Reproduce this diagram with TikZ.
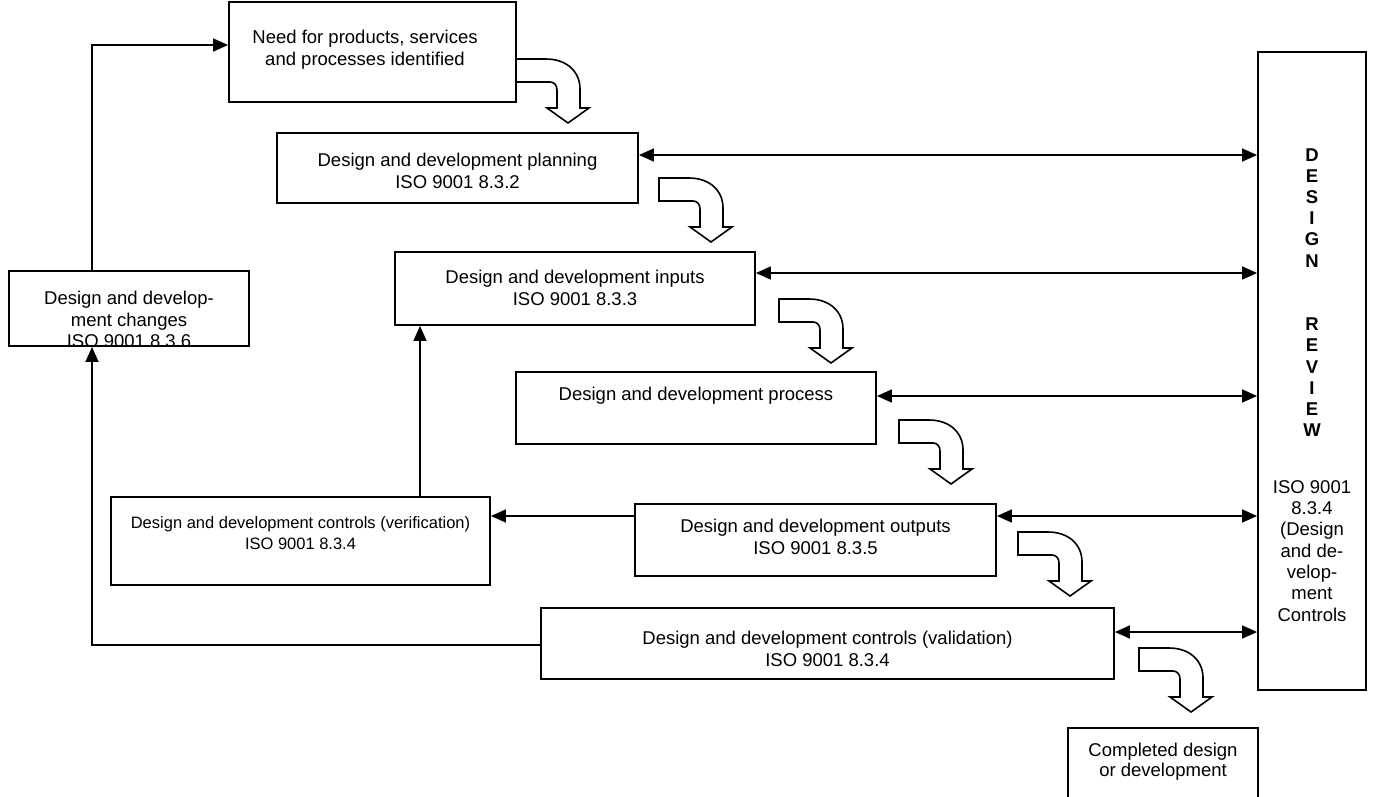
\documentclass[tikz,border=0pt]{standalone}
\usepackage{fontspec}
\setmainfont{Liberation Sans}
\usetikzlibrary{arrows.meta}
\tikzset{
  box/.style={draw, line width=1.8pt, inner sep=0pt},
  txt/.style={font=\fontsize{18.5}{21.5}\selectfont, align=center, inner sep=0pt, anchor=north},
  revtxt/.style={font=\fontsize{18.5}{21.2}\selectfont\bfseries, align=center, inner sep=0pt, anchor=north},
  notetxt/.style={font=\fontsize{18.5}{21.3}\selectfont, align=center, inner sep=0pt, anchor=north},
  conn/.style={line width=1.5pt},
  tip/.style={-{Triangle[length=15pt,width=13pt]}},
  dbl/.style={{Triangle[length=15pt,width=13pt]}-{Triangle[length=15pt,width=13pt]}},
  bendarrow/.pic={
    \draw[line width=1.6pt, fill=white, line join=miter]
      (0,0) -- (30,0) .. controls (50,0) and (64,12) .. (64,30) -- (64,49) -- (73,49)
      -- (52,64) -- (31,49) -- (41,49) -- (41,31)
      .. controls (41,26) and (38,23) .. (34,23) -- (0,23) -- cycle;
  }
}
\begin{document}
\begin{tikzpicture}[x=1pt,y=-1pt]
\useasboundingbox (0,0) rectangle (1379,796);

% boxes
\node[box, minimum width=287pt, minimum height=100pt] (need)  at (372.5,52) {};
\node[box, minimum width=361pt, minimum height=70pt]  (plan)  at (457.5,168) {};
\node[box, minimum width=360pt, minimum height=73pt]  (inp)   at (575,288.5) {};
\node[box, minimum width=360pt, minimum height=72pt]  (proc)  at (696,408) {};
\node[box, minimum width=361pt, minimum height=72pt]  (outp)  at (815.5,540) {};
\node[box, minimum width=573pt, minimum height=71pt]  (valid) at (827.5,643.5) {};
\node[box, minimum width=379pt, minimum height=88pt]  (verif) at (300.5,541) {};
\node[box, minimum width=240pt, minimum height=75pt]  (chg)   at (129,308.5) {};
\node[box, minimum width=108pt, minimum height=638pt] (rev)   at (1312,371) {};
\node[box, minimum width=190pt, minimum height=102pt] (comp)  at (1163,779) {};

% texts
\node[txt] (needt) at (365,30.2) {Need for products, services\\and processes identified};
\node[txt] (plant) at (457.5,153.2) {Design and development planning\\ISO 9001 8.3.2};
\node[txt] (inpt) at (575,270.2) {Design and development inputs\\ISO 9001 8.3.3};
\node[txt] (proct) at (696,387.2) {Design and development process};
\node[txt] (outpt) at (815.5,519.2) {Design and development outputs\\ISO 9001 8.3.5};
\node[txt] (validt) at (827.5,631.2) {Design and development controls (validation)\\ISO 9001 8.3.4};
\node[txt, font=\fontsize{16.5}{21.5}\selectfont] (verift) at (300.5,516.2) {Design and development controls (verification)\\ISO 9001 8.3.4};
\begin{scope}
  \clip (chg.south west) rectangle (chg.north east);
  \node[txt] (chgt) at (129,291.2) {Design and develop-\\ment changes\\ISO 9001 8.3.6};
\end{scope}
\node[txt, font=\fontsize{18.5}{20}\selectfont] (compt) at (1163,743.2) {Completed design\\or development};
\node[revtxt] (revt) at (1312,148.2) {D\\E\\S\\I\\G\\N\\\mbox{}\\\mbox{}\\R\\E\\V\\I\\E\\W};
\node[notetxt] (revn) at (1312,480.2) {ISO 9001\\8.3.4\\(Design\\and de-\\velop-\\ment\\Controls};

% connectors
\draw[conn, tip] (92,0 |- chg.north) -- (92,45) -- (need.west |- 0,45);
\draw[conn, tip] (valid.west |- 0,645) -- (92,645) -- (92,0 |- chg.south);
\draw[conn, tip] (420,0 |- verif.north) -- (420,0 |- inp.south);
\draw[conn, tip] (outp.west |- 0,516) -- (verif.east |- 0,516);
\draw[conn, dbl] (plan.east |- 0,155) -- (rev.west |- 0,155);
\draw[conn, dbl] (inp.east |- 0,273) -- (rev.west |- 0,273);
\draw[conn, dbl] (proc.east |- 0,396) -- (rev.west |- 0,396);
\draw[conn, dbl] (outp.east |- 0,516) -- (rev.west |- 0,516);
\draw[conn, dbl] (valid.east |- 0,632) -- (rev.west |- 0,632);

% bent block arrows
\pic at (516,59) {bendarrow};
\pic at (659,178) {bendarrow};
\pic at (779,299) {bendarrow};
\pic at (899,420) {bendarrow};
\pic at (1018,532) {bendarrow};
\pic at (1139,648) {bendarrow};
\end{tikzpicture}
\end{document}
